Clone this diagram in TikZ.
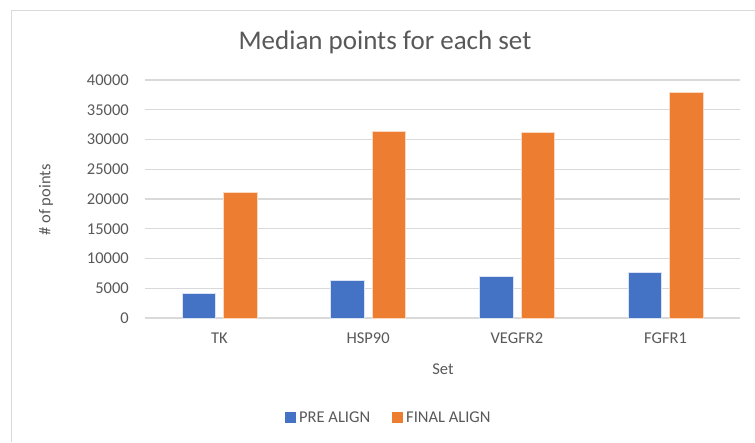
\documentclass[tikz,border=0pt]{standalone}
\usepackage{fontspec}
\setmainfont{Carlito}
\definecolor{txt}{HTML}{595959}
\definecolor{grid}{HTML}{D9D9D9}
\definecolor{bblue}{HTML}{4472C4}
\definecolor{borange}{HTML}{ED7D31}
\tikzset{
  lbl/.style={text=txt, font=\fontsize{16.5}{18}\selectfont, inner sep=0pt},
  gridline/.style={draw=grid, line width=1.1pt},
  prebar/.style={fill=bblue, draw=white!80!bblue, line width=0.6pt},
  finbar/.style={fill=borange, draw=white!70!borange, line width=0.6pt},
}
% value given in thousands
\newcommand{\vy}[1]{318-#1*5.95}
\begin{document}
\begin{tikzpicture}[x=1pt,y=-1pt]
\useasboundingbox (0,0) rectangle (755,442);
\fill[white] (0,0) rectangle (755,442);
% chart border
\draw[draw=grid, line width=1pt] (11,442) -- (11,10) -- (755,10);
% title
\node[text=txt, font=\fontsize{27}{30}\selectfont, inner sep=0pt] (title) at (385,42) {Median points for each set};
% grid lines and tick labels
\foreach \k/\lab [count=\i] in {0/0,5/5000,10/10000,15/15000,20/20000,25/25000,30/30000,35/35000,40/40000} {
  \draw[gridline] (145,{\vy{\k}}) -- (740,{\vy{\k}});
  \node[lbl, anchor=east] (tick\i) at (129,{\vy{\k}}) {\lab};
}
% axis titles
\node[lbl, rotate=90] (ytitle) at (46,200) {\# of points};
\node[lbl] (xtitle) at (443,369) {Set};
% bars
\foreach \c/\pre/\fin/\name [count=\i] in {219.4/4.20/21.18/TK, 368.1/6.39/31.43/HSP90, 516.9/7.06/31.26/VEGFR2, 665.6/7.73/37.98/FGFR1} {
  \fill[prebar] ({\c-37.5},318) rectangle ({\c-4},{\vy{\pre}});
  \fill[finbar] ({\c+4},318) rectangle ({\c+37.5},{\vy{\fin}});
  \node[lbl] (cat\i) at (\c,338) {\name};
}
% legend
\fill[bblue] (285,412) rectangle (296,423);
\node[lbl, anchor=west] (leg1) at (299,417.5) {PRE ALIGN};
\fill[borange] (392,412) rectangle (403,423);
\node[lbl, anchor=west] (leg2) at (406,417.5) {FINAL ALIGN};
\end{tikzpicture}
\end{document}
